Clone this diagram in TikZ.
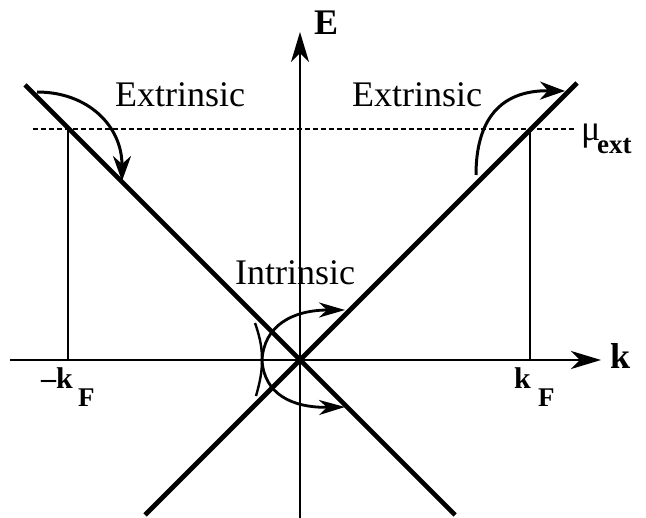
\documentclass[tikz,border=0pt]{standalone}
\usepackage{fontspec}
\setmainfont{Liberation Serif}[BoldFont={Liberation Serif Bold}]
\usetikzlibrary{arrows.meta}
\begin{document}
\begin{tikzpicture}[x=1pt,y=-1pt,
  big/.style={font=\fontsize{36}{40}\selectfont, inner sep=0pt},
  bigb/.style={font=\fontsize{36}{40}\selectfont\bfseries, inner sep=0pt},
  axis/.style={line width=2.1pt, -{Stealth[length=30pt,width=18pt,inset=9pt]}},
  band/.style={line width=4.6pt},
  guide/.style={line width=1.6pt},
  hop/.style={line width=3pt, -{Stealth[length=25pt,width=18pt,inset=8pt]}},
  ihop/.style={line width=2.8pt, -{Stealth[length=26pt,width=15pt,inset=8pt]}}]
\useasboundingbox (0,0) rectangle (646,518);
% coordinates
\coordinate (O) at (300,360);
\coordinate (kL) at (10,360);
\coordinate (kR) at (601,360);
\coordinate (eB) at (300,518);
\coordinate (eT) at (300,32);
\coordinate (b1a) at (25,85);
\coordinate (b1b) at (455,515);
\coordinate (b2a) at (577,83);
\coordinate (b2b) at (145,515);
\coordinate (dL) at (33,129);
\coordinate (dR) at (576,129);
\coordinate (fL) at (68,129);
\coordinate (fLb) at (68,360);
\coordinate (fR) at (530,129);
\coordinate (fRb) at (530,360);
% axes
\draw[axis] (kL) -- (kR);
\draw[axis] (eB) -- (eT);
% bands
\draw[band] (b1a) -- (b1b);
\draw[band] (b2a) -- (b2b);
% chemical potential
\draw[line width=2.8pt, dash pattern=on 4.5pt off 3.5pt] (dL) -- (dR);
\draw[guide] (fL) -- (fLb);
\draw[guide] (fR) -- (fRb);
% extrinsic arrows
\coordinate (x1s) at (37,92);
\coordinate (x1e) at (122,181);
\draw[hop] (x1s) .. controls (88,92) and (122,126) .. (x1e);
\coordinate (x2s) at (476,175);
\coordinate (x2e) at (565,91);
\draw[hop] (x2s) .. controls (476,120) and (500,90) .. (x2e);
% intrinsic arrows
\coordinate (is) at (255,323);
\coordinate (im) at (262,360);
\coordinate (ie) at (256,396);
\draw[line width=2.4pt] (is) .. controls (261,340) and (262,350) .. (im) .. controls (262,372) and (260,382) .. (ie);
\coordinate (iu) at (345,310);
\coordinate (id) at (345,407);
\draw[ihop] (im) .. controls (264,326) and (292,310) .. (iu);
\draw[ihop] (im) .. controls (264,394) and (292,408) .. (id);
% labels
\node[big, anchor=base west] (lx1) at (115,107) {Extrinsic};
\node[big, anchor=base west] (lx2) at (352,107) {Extrinsic};
\node[big, anchor=base west] (li) at (235,285) {Intrinsic};
\node[bigb, anchor=base west] (lE) at (314,35) {E};
\node[bigb, anchor=base west] (lk) at (610,369) {k};
\node[big, anchor=base west] (lmu) at (581,141) {μ};
\node[font=\fontsize{27}{30}\selectfont\bfseries, inner sep=0pt, anchor=base west] (lext) at (597,154) {ext};
\node[font=\fontsize{30}{32}\selectfont\bfseries, inner sep=0pt, anchor=base west] (lkf1) at (41,389) {–k};
\node[font=\fontsize{27}{30}\selectfont\bfseries, inner sep=0pt, anchor=base west] (lF1) at (78,407) {F};
\node[font=\fontsize{30}{32}\selectfont\bfseries, inner sep=0pt, anchor=base west] (lkf2) at (514,389) {k};
\node[font=\fontsize{27}{30}\selectfont\bfseries, inner sep=0pt, anchor=base west] (lF2) at (538,407) {F};
\end{tikzpicture}
\end{document}
